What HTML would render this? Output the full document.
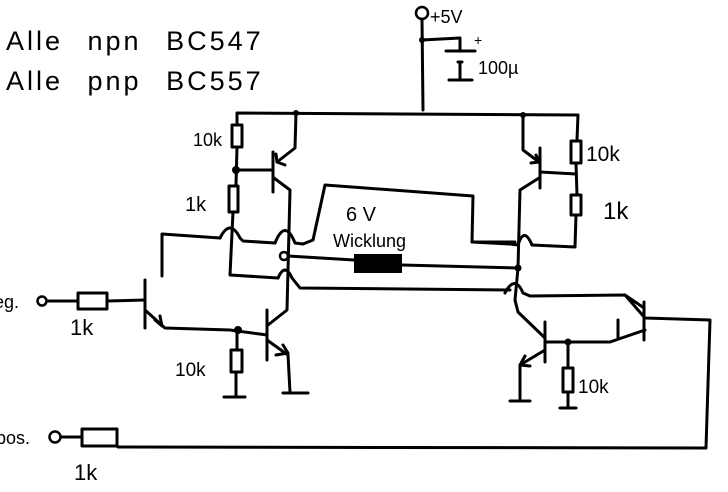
<!DOCTYPE html>
<html><head><meta charset="utf-8"><style>
html,body{margin:0;padding:0;background:#fff;}
svg{display:block}
text{font-family:"Liberation Sans",sans-serif;fill:#000;}
</style></head><body>
<svg width="728" height="492" viewBox="0 0 728 492" xmlns="http://www.w3.org/2000/svg">
<g fill="none" stroke="#000" stroke-width="3" stroke-linecap="round" stroke-linejoin="round">
<circle cx="422" cy="13" r="6" stroke-width="2.5"/>
<polyline points="422,19 423,110"/>
<polyline points="422,40 460,38 460,50"/>
<line x1="446" y1="51" x2="475" y2="51"/>
<line x1="458" y1="62" x2="462" y2="62"/>
<line x1="460" y1="62" x2="460" y2="80"/>
<line x1="449" y1="80" x2="472" y2="80"/>
<polyline points="237,125 237,113 578,115 577,140"/>
<rect x="232" y="125" width="10" height="22"/>
<polyline points="237,147 236,185"/>
<rect x="229" y="186" width="9" height="26"/>
<polyline points="233,212 230,275 278,278"/>
<path d="M278,278 Q285,262 292,278 L300,288 L510,290"/>
<line x1="236" y1="170" x2="273" y2="170"/>
<line x1="273" y1="152" x2="273" y2="192"/>
<polyline points="296,113 295,148 277,162"/>
<polyline points="276,154 277,162 285,165"/>
<polyline points="274,178 290,190 287,310 268,325"/>
<polyline points="162,276 162,234 220,238"/>
<path d="M220,238 Q230,218 240,238 L243,241 L275,243"/>
<path d="M275,243 Q285,218 295,243 L303,244 L313,240 L325,185 L473,196 L472,242 L515,242"/>
<circle cx="284" cy="256" r="4" stroke-width="2.5"/>
<polyline points="288,256 354,260"/>
<polyline points="402,265 518,268"/>
<line x1="540" y1="148" x2="540" y2="188"/>
<polyline points="523,115 523,150 539,162"/>
<polyline points="531,163 539,162 536,155"/>
<polyline points="540,172 576,174"/>
<polyline points="539,178 520,190 518,268 515,300 518,312 545,338"/>
<rect x="571" y="141" width="10" height="22"/>
<polyline points="576,163 577,195"/>
<rect x="571" y="195" width="10" height="20"/>
<polyline points="576,215 575,247 532,245"/>
<path d="M532,245 Q524,226 518,245 L510,244 L472,242"/>
<path d="M505,293 Q515,274 523,293 L530,296 L625,295 L645,318 L710,320 L706,448 L118,447"/>
<line x1="545" y1="322" x2="545" y2="362"/>
<polyline points="545,350 520,365 520,400"/>
<polyline points="525,356 520,365 530,366"/>
<line x1="510" y1="401" x2="530" y2="401"/>
<polyline points="545,342 610,342 645,330"/>
<line x1="644" y1="302" x2="644" y2="340"/>
<line x1="618" y1="320" x2="618" y2="337"/>
<polyline points="625,295 644,308"/>
<line x1="568" y1="342" x2="568" y2="368"/>
<rect x="563" y="368" width="10" height="24"/>
<line x1="568" y1="392" x2="568" y2="408"/>
<line x1="560" y1="408" x2="576" y2="408"/>
<circle cx="42" cy="301" r="4.5" stroke-width="2.5"/>
<line x1="47" y1="301" x2="78" y2="301"/>
<rect x="78" y="293" width="29" height="16"/>
<line x1="107" y1="301" x2="145" y2="300"/>
<line x1="145" y1="280" x2="145" y2="328"/>
<polyline points="145,310 165,328 230,330 267,335"/>
<polyline points="155,320 162,326 160,316"/>
<line x1="267" y1="310" x2="267" y2="360"/>
<polyline points="267,340 288,355 290,392"/>
<polyline points="276,355 288,353 283,345"/>
<line x1="283" y1="393" x2="308" y2="393"/>
<line x1="237" y1="330" x2="237" y2="350"/>
<rect x="231" y="350" width="11" height="22"/>
<line x1="236" y1="372" x2="236" y2="396"/>
<line x1="224" y1="397" x2="245" y2="397"/>
<circle cx="55" cy="437" r="5.5" stroke-width="2.5"/>
<line x1="61" y1="437" x2="82" y2="437"/>
<rect x="82" y="429" width="35" height="17"/>
</g>
<g fill="#000">
<circle cx="422" cy="40" r="3"/>
<circle cx="236" cy="170" r="4"/>
<circle cx="238" cy="330" r="4"/>
<circle cx="518" cy="268" r="3.5"/>
<circle cx="568" cy="342" r="3.5"/>
<circle cx="296" cy="113" r="3"/>
<circle cx="523" cy="115" r="3"/>
<rect x="354" y="254" width="48" height="19"/>
</g>
<text x="6" y="50" font-size="27" letter-spacing="3" word-spacing="14">Alle npn BC547</text>
<text x="6" y="90" font-size="27" letter-spacing="3" word-spacing="14">Alle pnp BC557</text>
<text x="430" y="23" font-size="18">+5V</text>
<text x="474" y="45" font-size="14">+</text>
<text x="478" y="74" font-size="18">100µ</text>
<text x="193" y="146" font-size="18">10k</text>
<text x="185" y="211" font-size="20">1k</text>
<text x="346" y="221" font-size="20">6 V</text>
<text x="333" y="247" font-size="18">Wicklung</text>
<text x="586" y="161" font-size="21">10k</text>
<text x="603" y="219" font-size="24">1k</text>
<text x="-6" y="308" font-size="18">eg.</text>
<text x="70" y="335" font-size="22">1k</text>
<text x="175" y="376" font-size="19">10k</text>
<text x="578" y="393" font-size="19">10k</text>
<text x="-4" y="444" font-size="18">pos.</text>
<text x="74" y="480" font-size="22">1k</text>
</svg>
</body></html>
